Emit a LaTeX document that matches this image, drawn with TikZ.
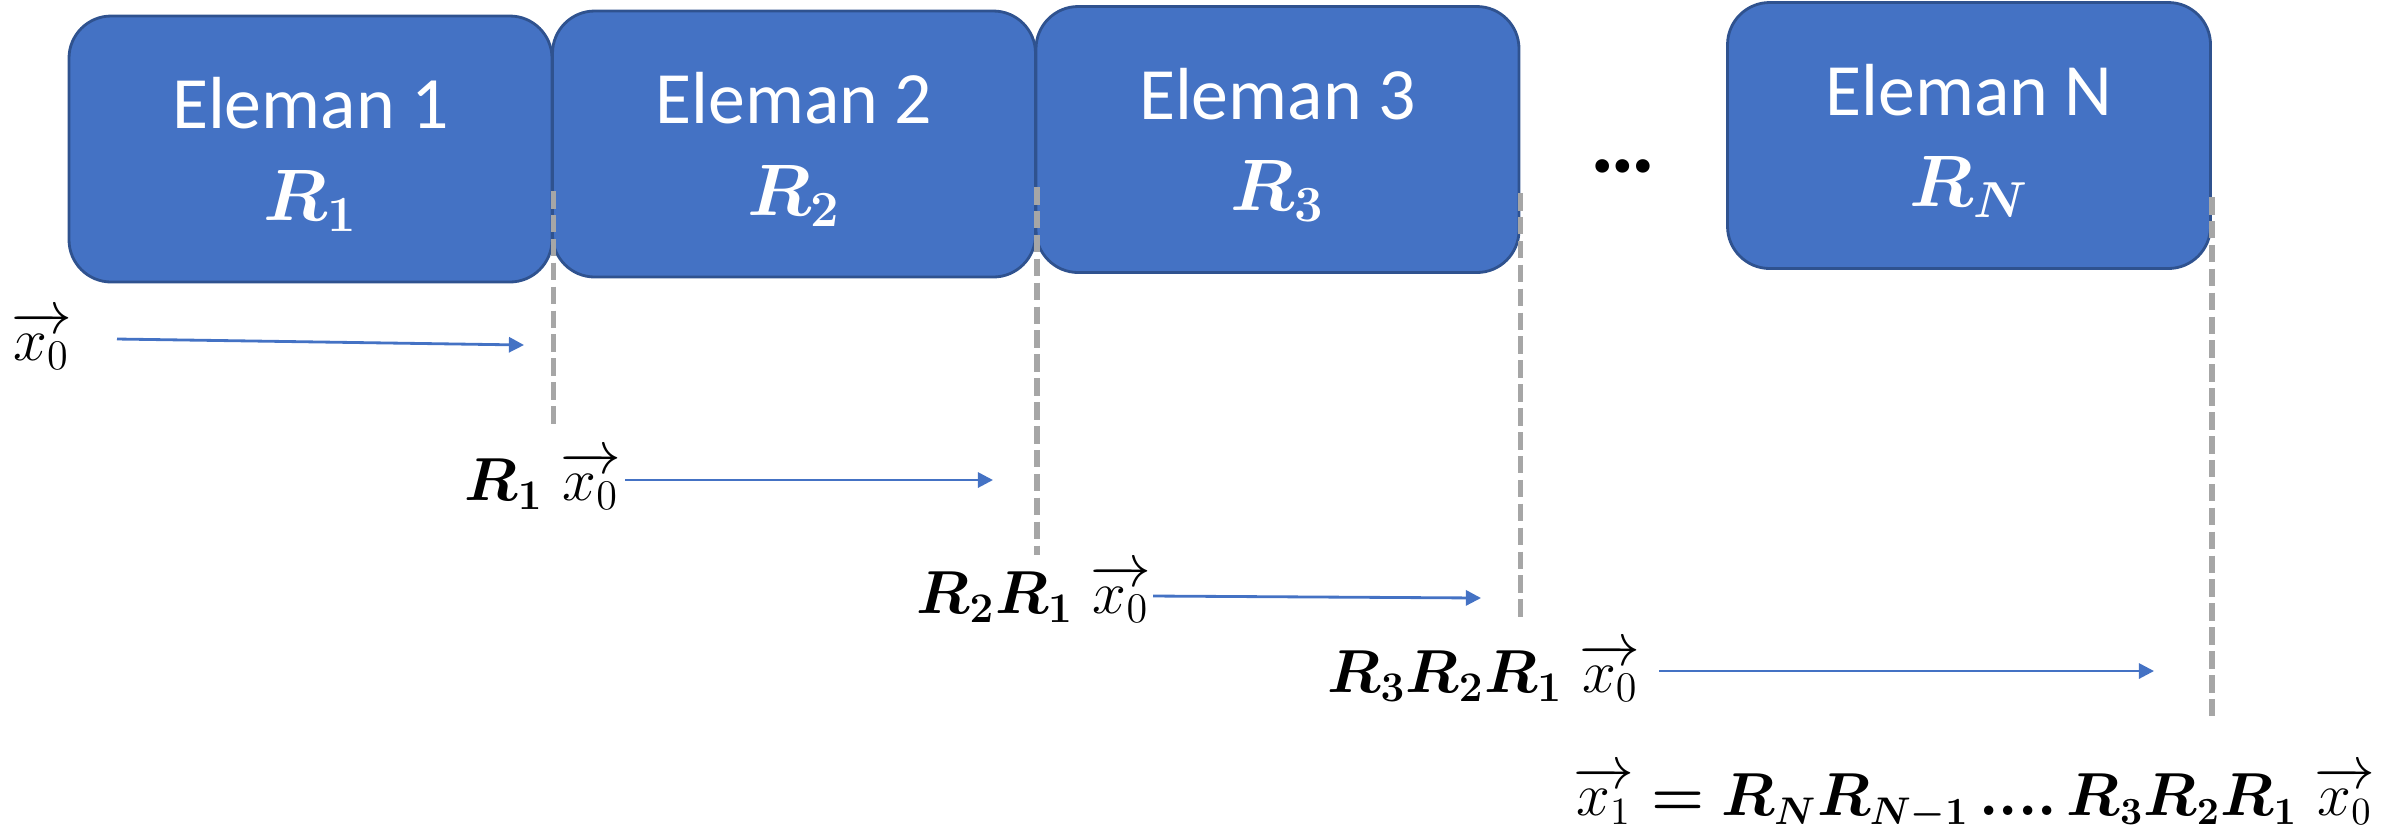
\documentclass[tikz,border=0pt]{standalone}
\usepackage{amsmath,bm}
\usepackage{fontspec}
\setmainfont{Carlito}
\usetikzlibrary{arrows.meta}
\definecolor{BoxC}{HTML}{4472C4}
\definecolor{EdgeC}{HTML}{2F528F}
\definecolor{GuideC}{HTML}{A6A6A6}
\newcommand{\vx}[1]{\overrightarrow{x_{#1}}}

\begin{document}
\begin{tikzpicture}[x=1cm,y=1cm,
  elem/.style={draw=EdgeC,line width=.8pt,rounded corners=12pt,fill=BoxC,
             minimum width=4.83cm,minimum height=2.66cm,text=white,align=center,
             font=\fontsize{21}{26}\selectfont,text depth=0pt},
  lbl/.style={anchor=base,inner sep=0pt,font=\fontsize{16.5}{20}\selectfont},
  flow/.style={-{Triangle[length=4.3pt,width=4.3pt]},line width=.8pt,draw=BoxC},
  guide/.style={draw=GuideC,line width=1.6pt,dash pattern=on 5pt off 1.8pt}]
\useasboundingbox (0,0) rectangle (23.99,-8.33);

\node[elem] (e1) at (3.105,-1.49)  {Eleman 1\\$\bm{R_1}$};
\node[elem] (e2) at (7.94,-1.44)   {Eleman 2\\$\bm{R_2}$};
\node[elem] (e3) at (12.775,-1.395) {Eleman 3\\$\bm{R_3}$};
\node[elem] (eN) at (19.69,-1.355) {Eleman N\\$\bm{R_N}$};
\node[anchor=base,font=\fontsize{26}{30}\selectfont\bfseries] (dots) at (16.23,-1.72) {…};

% guides below each element edge
\foreach \b/\s/\l in {e1/4.2/2.33,e2/4.3/3.68,e3/5.35/4.25,eN/6.15/5.21}
  \draw[guide] ([yshift=-\s mm]\b.east) -- ++(0,-\l);

% vectors after each element
\node[lbl] (l0) at (0.415,-3.60) {$\vx{0}$};
\node[lbl] (l1) at (5.43,-5.00) {$\bm{R_1}\;\vx{0}$};
\node[lbl] (l2) at (10.34,-6.13) {$\bm{R_2R_1}\;\vx{0}$};
\node[lbl] (l3) at (14.84,-6.92) {$\bm{R_3R_2R_1}\;\vx{0}$};
\node[lbl,anchor=base east,font=\fontsize{16}{19}\selectfont] (l4) at (23.76,-8.15)
  {$\vx{1}\mathrel{\bm{=}}\bm{R_NR_{N-1}}\,\bm{....}\,\bm{R_3R_2R_1}\;\vx{0}$};

\coordinate (s0) at (1.17,-3.39);  \coordinate (t0) at (5.24,-3.45);
\coordinate (s1) at (6.25,-4.80);  \coordinate (t1) at (9.93,-4.80);
\coordinate (s2) at (11.53,-5.96); \coordinate (t2) at (14.81,-5.98);
\coordinate (s3) at (16.59,-6.71); \coordinate (t3) at (21.54,-6.71);
\foreach \x/\y in {s0/t0,s1/t1,s2/t2,s3/t3} \draw[flow] (\x) -- (\y);

\end{tikzpicture}
\end{document}
